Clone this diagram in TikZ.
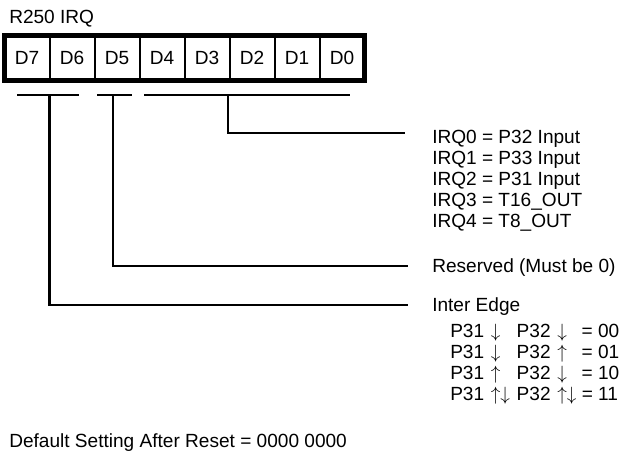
\documentclass[tikz,border=0pt]{standalone}
\usepackage{fontspec}
\setmainfont{Liberation Sans}
\usepackage{tikz}
\usetikzlibrary{positioning,calc}

\begin{document}
\begin{tikzpicture}[
    x=0.75pt, y=-0.75pt,
    font=\fontsize{14.3}{15.75}\selectfont,
    bit/.style={rectangle, draw, line width=1.5pt, minimum width=33.75pt, minimum height=34.1pt, inner sep=0pt, outer sep=0pt},
    note/.style={inner sep=0pt, anchor=base west},
    frame/.style={draw, line width=3.75pt},
    wire/.style={line width=1.9pt},
]
\useasboundingbox (0,0) rectangle (622,459);
% Register
\node[note] (title) at (9,24) {R250 IRQ};
\node[bit] (d7) at (27,57.75) {D7};
\node[bit, right=0pt of d7] (d6) {D6};
\node[bit, right=0pt of d6] (d5) {D5};
\node[bit, right=0pt of d5] (d4) {D4};
\node[bit, right=0pt of d4] (d3) {D3};
\node[bit, right=0pt of d3] (d2) {D2};
\node[bit, right=0pt of d2] (d1) {D1};
\node[bit, right=0pt of d1] (d0) {D0};
\draw[frame] (d7.north west) rectangle (d0.south east);

% Bit groups
\coordinate (g1l) at (17,95);
\coordinate (g1r) at (79,95);
\coordinate (g1m) at (49.5,95);
\coordinate (g2l) at (97,95);
\coordinate (g2r) at (132,95);
\coordinate (g2m) at (113,95);
\coordinate (g3l) at (144,95);
\coordinate (g3r) at (350,95);
\coordinate (g3m) at (228,95);

% Descriptions
\node[note] (irq) at (432,144) {\begin{tabular}[t]{@{}l@{}}
IRQ0 = P32 Input\\
IRQ1 = P33 Input\\
IRQ2 = P31 Input\\
IRQ3 = T16\_OUT\\
IRQ4 = T8\_OUT
\end{tabular}};
\node[note] (rsv) at (432,273) {Reserved (Must be 0)};
\node[note] (edge) at (432,312) {Inter Edge};
\node[note] (modes) at (450,338) {\begin{tabular}[t]{@{}l@{\hspace{5pt}}l@{\hspace{5pt}}l@{\hspace{5pt}}l@{}}
P31 & $\downarrow$ & P32 & $\downarrow$\hspace{11pt}= 00\\
P31 & $\downarrow$ & P32 & $\uparrow$\hspace{11pt}= 01\\
P31 & $\uparrow$ & P32 & $\downarrow$\hspace{11pt}= 10\\
P31 & $\uparrow\downarrow$ & P32 & $\uparrow\downarrow$ = 11
\end{tabular}};
\node[note] (reset) at (9,448) {Default Setting After Reset = 0000 0000};

% Connectors
\coordinate (irqend) at (405,133);
\coordinate (rsvend) at (408,266);
\coordinate (edgeend) at (408,305);
\draw[wire] (g1l) -- (g1r);
\draw[wire] (g2l) -- (g2r);
\draw[wire] (g3l) -- (g3r);
\draw[wire] (g3m) |- (irqend);
\draw[wire] (g2m) |- (rsvend);
\draw[wire] (g1m) |- (edgeend);
\end{tikzpicture}
\end{document}
